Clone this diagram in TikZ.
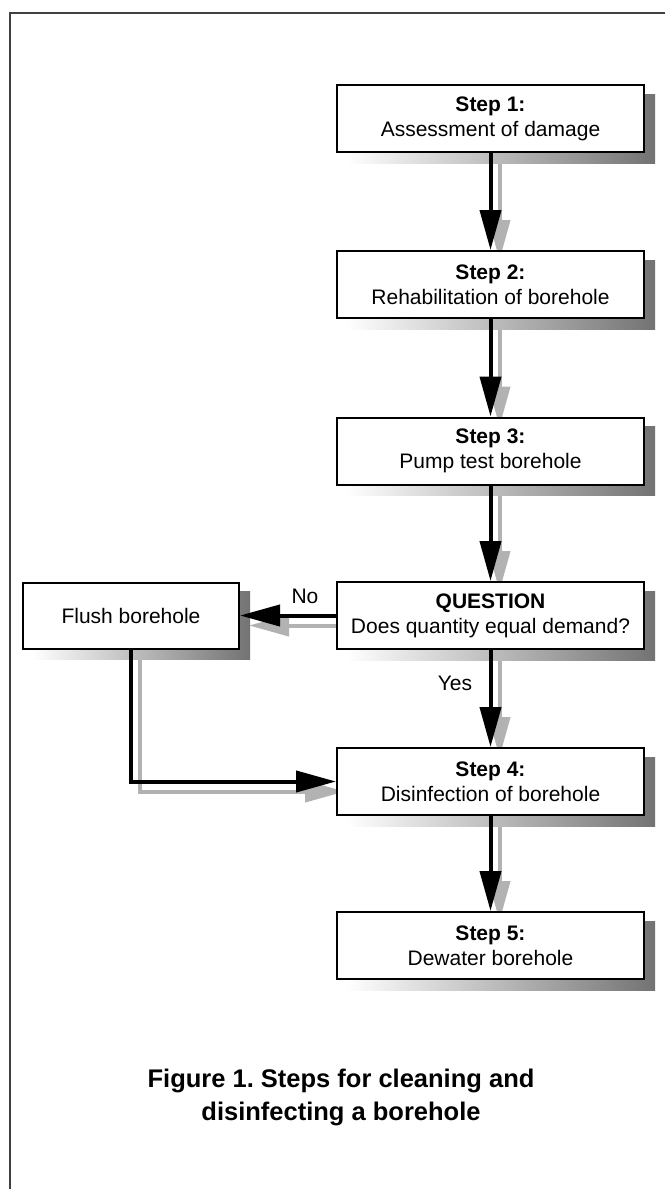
\documentclass[tikz,border=0pt]{standalone}
\usepackage{fontspec}
\setmainfont{Liberation Sans}
\usetikzlibrary{arrows.meta,calc}
\pgfdeclarelayer{bg}
\pgfsetlayers{bg,main}
\definecolor{arrowshadow}{gray}{0.70}
\definecolor{framegray}{gray}{0.25}
\frenchspacing
\tikzset{
  stepbox/.style={draw=black, line width=2pt, fill=white, minimum width=307pt,
    minimum height=67pt, inner sep=0pt, align=center, font=\fontsize{21}{25}\selectfont},
  flushbox/.style={stepbox, minimum width=216pt, minimum height=66pt},
  flow/.style={line width=4pt, -{Triangle[width=21pt,length=40pt]}},
  flowshadow/.style={flow, draw=arrowshadow, transform canvas={shift={(9pt,-10pt)}}},
  boxshadow/.style={left color=white, right color=black!55},
  lbl/.style={font=\fontsize{21}{25}\selectfont, inner sep=0pt},
  caption/.style={font=\fontsize{25.5}{33}\selectfont\bfseries, inner sep=0pt, anchor=base}
}
\begin{document}
\begin{tikzpicture}[x=1pt,y=-1pt]
\useasboundingbox (0,0) rectangle (665,1189);
\draw[framegray, line width=1.5pt] (665,13) -- (10,13) -- (10,1189);

\node[stepbox] (s1) at (490.5,118.5) {\textbf{Step 1:}\\Assessment of damage};
\node[stepbox] (s2) at (490.5,284.5) {\textbf{Step 2:}\\Rehabilitation of borehole};
\node[stepbox] (s3) at (490.5,451) {\textbf{Step 3:}\\Pump test borehole};
\node[stepbox] (q)  at (490.5,615.5) {\textbf{QUESTION}\\Does quantity equal demand?};
\node[stepbox] (s4) at (490.5,781.5) {\textbf{Step 4:}\\Disinfection of borehole};
\node[stepbox] (s5) at (490.5,945.5) {\textbf{Step 5:}\\Dewater borehole};
\node[flushbox] (fl) at (131,615.5) {Flush borehole};

\begin{pgfonlayer}{bg}
  \draw[flowshadow] (s1) -- (s2);
  \draw[flowshadow] (s2) -- (s3);
  \draw[flowshadow] (s3) -- (q);
  \draw[flowshadow] (q) -- (s4);
  \draw[flowshadow] (s4) -- (s5);
  \draw[flowshadow] (q) -- (fl);
  \draw[flowshadow] (fl.south) |- (s4.west);
  \foreach \b in {s1,s2,s3,q,s4,s5,fl}{
    \shade[boxshadow] ($(\b.south west)+(10pt,-10pt)$) rectangle ($(\b.north east)+(10pt,-10pt)$);
  }
\end{pgfonlayer}

\draw[flow] (s1) -- (s2);
\draw[flow] (s2) -- (s3);
\draw[flow] (s3) -- (q);
\draw[flow] (q) -- (s4);
\draw[flow] (s4) -- (s5);
\draw[flow] (q) -- (fl);
\draw[flow] (fl.south) |- (s4.west);

\node[lbl] (no) at (305,596) {No};
\node[lbl] (yes) at (455,683) {Yes};

\node[caption] (cap1) at (341,1087) {Figure 1. Steps for cleaning and};
\node[caption] (cap2) at (341,1120) {disinfecting a borehole};
\end{tikzpicture}
\end{document}
